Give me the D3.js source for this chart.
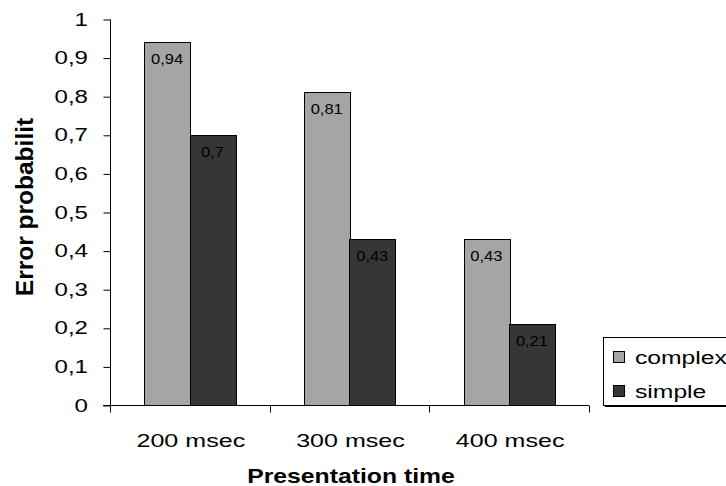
<!DOCTYPE html>
<html><head><meta charset="utf-8">
<script src="https://cdn.jsdelivr.net/npm/d3@7"></script>
<style>body{margin:0;background:#fff}svg{display:block;font-family:"Liberation Sans",Arial,sans-serif}</style>
</head><body>
<script>
const categories = ["200 msec", "300 msec", "400 msec"];
const seriesNames = ["complex", "simple"];
const complexValues = [0.94, 0.81, 0.43];
const simpleValues = [0.70, 0.43, 0.21];
const yTicks = [0, 0.1, 0.2, 0.3, 0.4, 0.5, 0.6, 0.7, 0.8, 0.9, 1];
const xTitle = "Presentation time";
const yTitle = "Error probabilit";
const colors = {complex: "#a5a5a5", simple: "#363636"};

const W = 726, H = 486;
const svg = d3.select("body").append("svg").attr("width", W).attr("height", H);
const fmt = v => String(v).replace(".", ",");

const x0 = d3.scaleBand().domain(categories).range([110, 589]).padding(0);
const groupW = x0.bandwidth() * 0.57;
const x1 = d3.scaleBand().domain(seriesNames)
  .range([(x0.bandwidth() - groupW) / 2, (x0.bandwidth() + groupW) / 2]).padding(0);
const y = d3.scaleLinear().domain([0, 1]).range([405, 19]);

const values = {complex: complexValues, simple: simpleValues};
const rows = [];
categories.forEach((c, i) => seriesNames.forEach(s => rows.push({c, s, v: values[s][i]})));

function stext(g, x, yy, txt, size, sx, anchor, weight) {
  return g.append("text").attr("transform", `translate(${x},${yy}) scale(${sx},1)`)
    .attr("text-anchor", anchor).attr("font-size", size).attr("font-weight", weight || "normal")
    .attr("fill", "#000").text(txt);
}

// bars
const bars = svg.append("g");
bars.selectAll("rect").data(rows).join("rect")
  .attr("x", d => Math.round(x0(d.c) + x1(d.s)) + 0.5)
  .attr("y", d => Math.round(y(d.v)) + 0.5)
  .attr("width", Math.round(x1.bandwidth()))
  .attr("height", d => Math.round(y(0)) - Math.round(y(d.v)))
  .attr("fill", d => colors[d.s]).attr("stroke", "#000").attr("stroke-width", 1);

rows.forEach(d => {
  stext(svg, x0(d.c) + x1(d.s) + x1.bandwidth() / 2, y(d.v) + 22, fmt(d.v), 15, 1.1, "middle");
});

// y axis
const yAxis = d3.axisLeft(y).tickValues(yTicks).tickSize(7).tickFormat("");
const gy = svg.append("g").attr("transform", "translate(110.5,0.5)").call(yAxis);
gy.select(".domain").remove();
gy.selectAll(".tick line").attr("stroke", "#000");
gy.append("line").attr("x1", 0).attr("x2", 0).attr("y1", y(1)).attr("y2", y(0) + 7).attr("stroke", "#000");
yTicks.forEach(t => stext(svg, 88, y(t) + 6.5, fmt(t), 18.5, 1.3, "end"));

// x axis
const gx = svg.append("g").attr("transform", `translate(0,${Math.round(y(0)) + 0.5})`);
gx.append("line").attr("x1", 103).attr("x2", 589).attr("y1", 0).attr("y2", 0).attr("stroke", "#000");
categories.forEach(c => {
  const xr = Math.round(x0(c) + x0.bandwidth()) + 0.5;
  gx.append("line").attr("x1", xr).attr("x2", xr).attr("y1", 0).attr("y2", 7).attr("stroke", "#000");
});
categories.forEach(c => stext(svg, x0(c) + x0.bandwidth() / 2 + 1, 447, c, 19, 1.32, "middle"));

// titles
stext(svg, 351, 483, xTitle, 19.5, 1.27, "middle", "bold");
svg.append("text").attr("transform", "translate(33,207) rotate(-90)")
  .attr("text-anchor", "middle").attr("font-size", 24.5).attr("font-weight", "bold").text(yTitle);

// legend
const lg = svg.append("g");
lg.append("rect").attr("x", 605).attr("y", 339).attr("width", 140).attr("height", 68).attr("fill", "#000");
lg.append("rect").attr("x", 603.5).attr("y", 337.5).attr("width", 140).attr("height", 68)
  .attr("fill", "#fff").attr("stroke", "#000");
seriesNames.forEach((s, i) => {
  const yy = 351 + i * 34;
  lg.append("rect").attr("x", 613.5).attr("y", yy + 0.5).attr("width", 11).attr("height", 11)
    .attr("fill", colors[s]).attr("stroke", "#000");
  stext(lg, 635, yy + 13, s, 19, 1.3, "start");
});
</script>
</body></html>
